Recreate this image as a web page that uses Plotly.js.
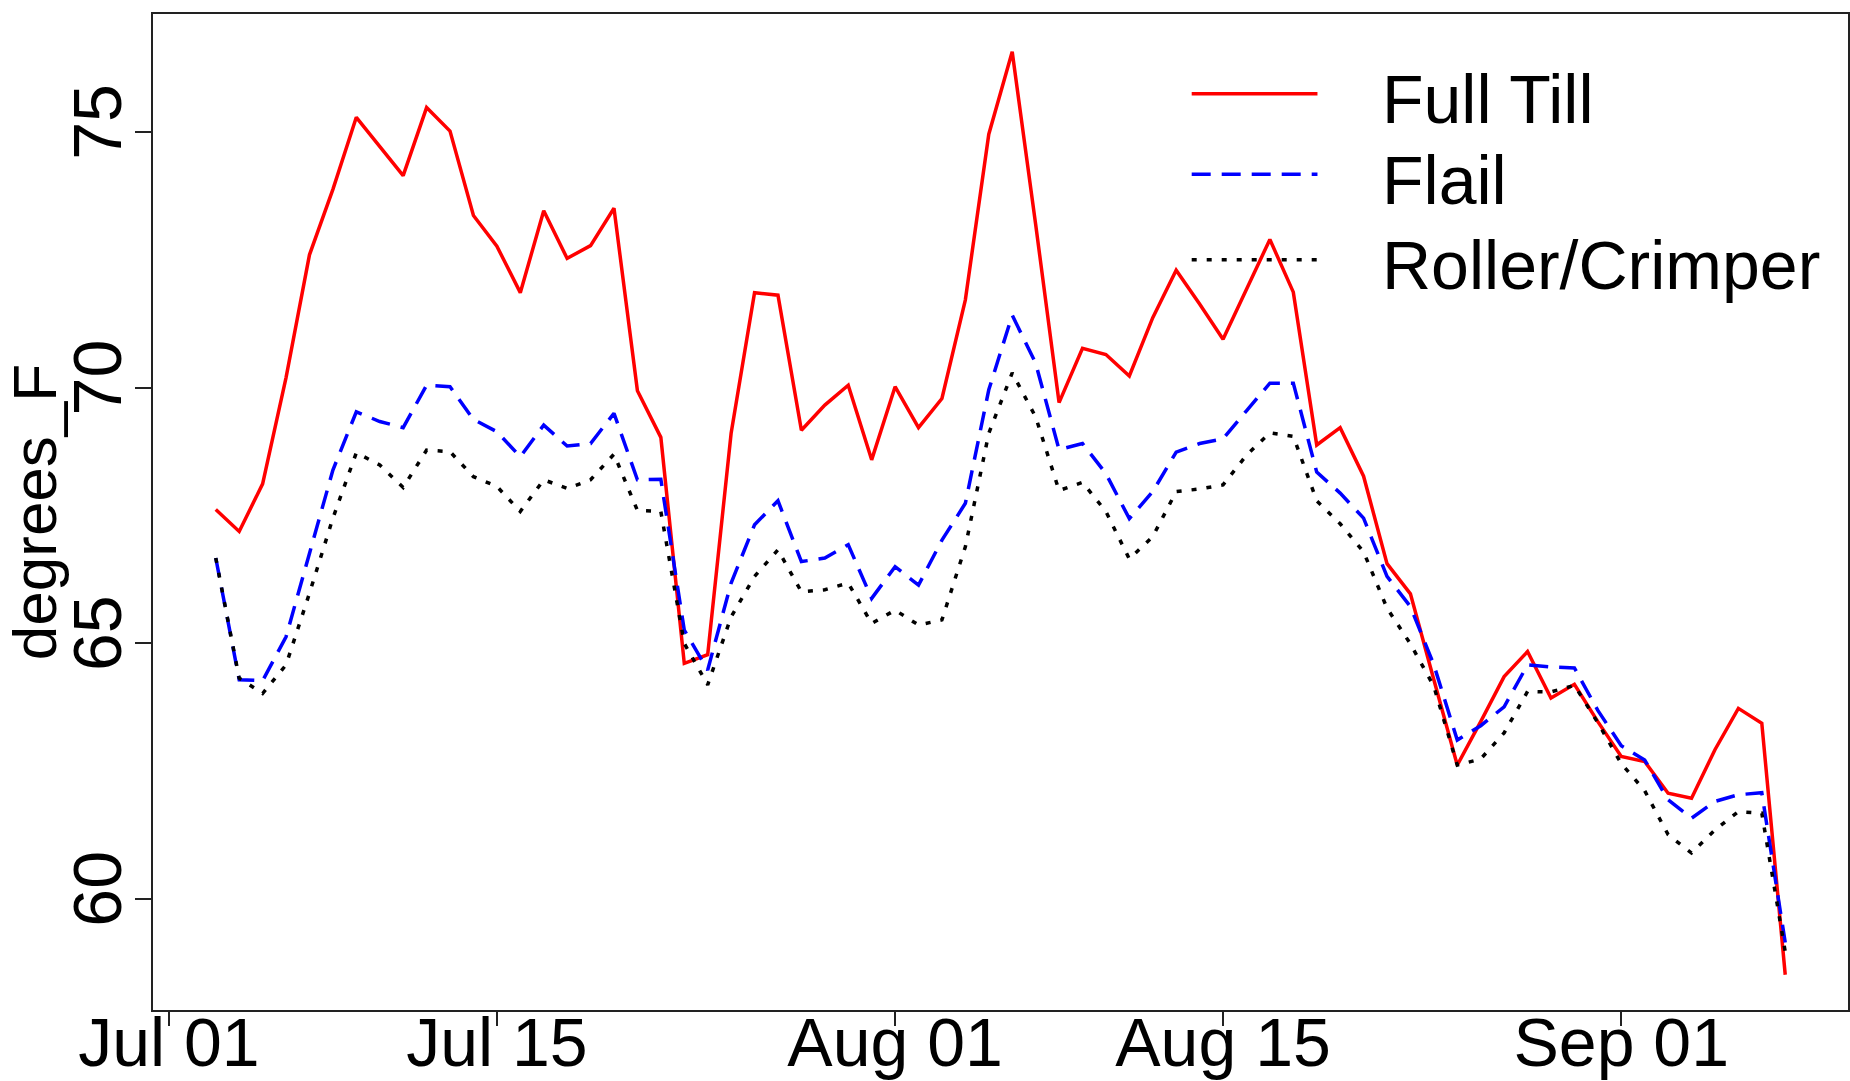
<!DOCTYPE html>
<html>
<head>
<meta charset="utf-8">
<script src="https://cdn.plot.ly/plotly-3.0.1.min.js"></script>
<style>
  html, body { margin: 0; padding: 0; background: #ffffff; }
  #chart { width: 1850px; height: 1081px; }
</style>
</head>
<body>
<div id="chart"></div>
<script>
// ---- data ----
var dates = [
  "2013-07-03","2013-07-04","2013-07-05","2013-07-06","2013-07-07","2013-07-08","2013-07-09","2013-07-10",
  "2013-07-11","2013-07-12","2013-07-13","2013-07-14","2013-07-15","2013-07-16","2013-07-17","2013-07-18",
  "2013-07-19","2013-07-20","2013-07-21","2013-07-22","2013-07-23","2013-07-24","2013-07-25","2013-07-26",
  "2013-07-27","2013-07-28","2013-07-29","2013-07-30","2013-07-31",
  "2013-08-01","2013-08-02","2013-08-03","2013-08-04","2013-08-05","2013-08-06","2013-08-07","2013-08-08",
  "2013-08-09","2013-08-10","2013-08-11","2013-08-12","2013-08-13","2013-08-14","2013-08-15","2013-08-16",
  "2013-08-17","2013-08-18","2013-08-19","2013-08-20","2013-08-21","2013-08-22","2013-08-23","2013-08-24",
  "2013-08-25","2013-08-26","2013-08-27","2013-08-28","2013-08-29","2013-08-30","2013-08-31",
  "2013-09-01","2013-09-02","2013-09-03","2013-09-04","2013-09-05","2013-09-06","2013-09-07","2013-09-08"
];

var fullTill = [
  67.62, 67.19, 68.12, 70.20, 72.60, 73.88, 75.29, 74.72, 74.15, 75.48, 75.02, 73.37, 72.77, 71.86,
  73.46, 72.53, 72.78, 73.51, 69.94, 69.03, 64.61, 64.78, 69.11, 71.86, 71.81, 69.17, 69.66, 70.05, 68.59,
  70.02, 69.22, 69.79, 71.72, 74.96, 76.57, 73.20, 69.71, 70.77, 70.65, 70.23, 71.37, 72.30, 71.64,
  70.95, 71.91, 72.90, 71.87, 68.88, 69.22, 68.27, 66.56, 65.97, 64.29, 62.62, 63.47, 64.35, 64.84,
  63.93, 64.20, 63.47,
  62.79, 62.69, 62.07, 61.97, 62.92, 63.73, 63.44, 58.52
];

var flail = [
  66.67, 64.29, 64.27, 65.13, 66.76, 68.39, 69.53, 69.34, 69.22, 70.05, 70.02, 69.38, 69.14, 68.65,
  69.27, 68.86, 68.91, 69.50, 68.20, 68.21, 65.26, 64.48, 66.18, 67.32, 67.79, 66.60, 66.67, 66.93, 65.88,
  66.50, 66.14, 67.02, 67.74, 69.96, 71.42, 70.48, 68.79, 68.91, 68.32, 67.44, 67.97, 68.74, 68.91,
  69.00, 69.55, 70.09, 70.09, 68.35, 67.94, 67.45, 66.31, 65.72, 64.58, 63.11, 63.39, 63.76, 64.58,
  64.54, 64.52, 63.69,
  63.00, 62.72, 61.94, 61.58, 61.91, 62.04, 62.08, 59.15
];

var rollerCrimper = [
  66.67, 64.32, 64.02, 64.58, 65.98, 67.45, 68.73, 68.49, 68.05, 68.78, 68.75, 68.26, 68.07, 67.58,
  68.20, 68.03, 68.20, 68.70, 67.60, 67.58, 65.00, 64.19, 65.52, 66.31, 66.83, 66.01, 66.05, 66.18, 65.39,
  65.65, 65.36, 65.46, 66.89, 69.11, 70.29, 69.43, 67.99, 68.15, 67.58, 66.65, 67.09, 67.97, 68.02,
  68.10, 68.68, 69.12, 69.05, 67.79, 67.34, 66.79, 65.69, 64.99, 64.16, 62.62, 62.74, 63.25, 64.06,
  64.05, 64.18, 63.45,
  62.65, 62.12, 61.26, 60.90, 61.35, 61.71, 61.68, 58.97
];

var seriesNames = ["Full Till", "Flail", "Roller/Crimper"];
var xTickVals = ["2013-07-01", "2013-07-15", "2013-08-01", "2013-08-15", "2013-09-01"];
var xTickLabels = ["Jul 01", "Jul 15", "Aug 01", "Aug 15", "Sep 01"];
var yTickVals = [60, 65, 70, 75];
var yTitle = "degrees_F";

// ---- styles ----
var FONT = 'Arial, "Liberation Sans", sans-serif';
var colors = ["#FF0000", "#0000FF", "#000000"];
var dashes = ["solid", "19px,11px", "5px,10px"];
var allSeries = [fullTill, flail, rollerCrimper];

var traces = allSeries.map(function (vals, i) {
  return {
    type: "scatter",
    mode: "lines",
    name: seriesNames[i],
    x: dates,
    y: vals,
    line: { color: colors[i], width: 3.5, dash: dashes[i] },
    hoverinfo: "x+y+name"
  };
});

// legend drawn like the R legend (no box, long line samples)
var legLineY = [0.9199, 0.8390, 0.7533];
var legTextY = [0.9146, 0.8337, 0.7480];
var shapes = [];
var annotations = [];
seriesNames.forEach(function (nm, i) {
  shapes.push({
    type: "line", xref: "paper", yref: "paper",
    x0: 0.6128, x1: 0.6870, y0: legLineY[i], y1: legLineY[i],
    line: { color: colors[i], width: 3.5, dash: dashes[i] }
  });
  annotations.push({
    xref: "paper", yref: "paper", x: 0.7237, y: legTextY[i],
    xanchor: "left", yanchor: "middle", showarrow: false,
    text: nm, font: { family: FONT, size: 68, color: "#000000" }
  });
});

var layout = {
  width: 1850,
  height: 1081,
  margin: { l: 153, r: 2, t: 14, b: 71, pad: 0 },
  paper_bgcolor: "#ffffff",
  plot_bgcolor: "#ffffff",
  showlegend: false,
  font: { family: FONT, color: "#000000" },
  xaxis: {
    type: "date",
    range: ["2013-06-30 07:41", "2013-09-10 16:19"],
    tickmode: "array",
    tickvals: xTickVals,
    ticktext: xTickLabels,
    ticks: "outside",
    ticklen: 14,
    tickwidth: 2,
    tickcolor: "#222222",
    showline: true,
    linecolor: "#222222",
    linewidth: 2,
    mirror: true,
    showgrid: false,
    zeroline: false,
    ticklabelstandoff: -42,
    tickfont: { family: FONT, size: 68, color: "#000000" }
  },
  yaxis: {
    range: [57.83, 77.31],
    tickmode: "array",
    tickvals: yTickVals,
    ticktext: yTickVals.map(String),
    tickangle: -90,
    ticks: "outside",
    ticklen: 16,
    tickwidth: 2,
    tickcolor: "#222222",
    showline: true,
    linecolor: "#222222",
    linewidth: 2,
    mirror: true,
    showgrid: false,
    zeroline: false,
    ticklabelstandoff: -13,
    tickfont: { family: FONT, size: 68, color: "#000000" },
    title: { text: yTitle, font: { family: FONT, size: 62, color: "#000000" }, standoff: 0 }
  },
  shapes: shapes,
  annotations: annotations
};

Plotly.newPlot("chart", traces, layout, { displayModeBar: false, staticPlot: true });
</script>
</body>
</html>
